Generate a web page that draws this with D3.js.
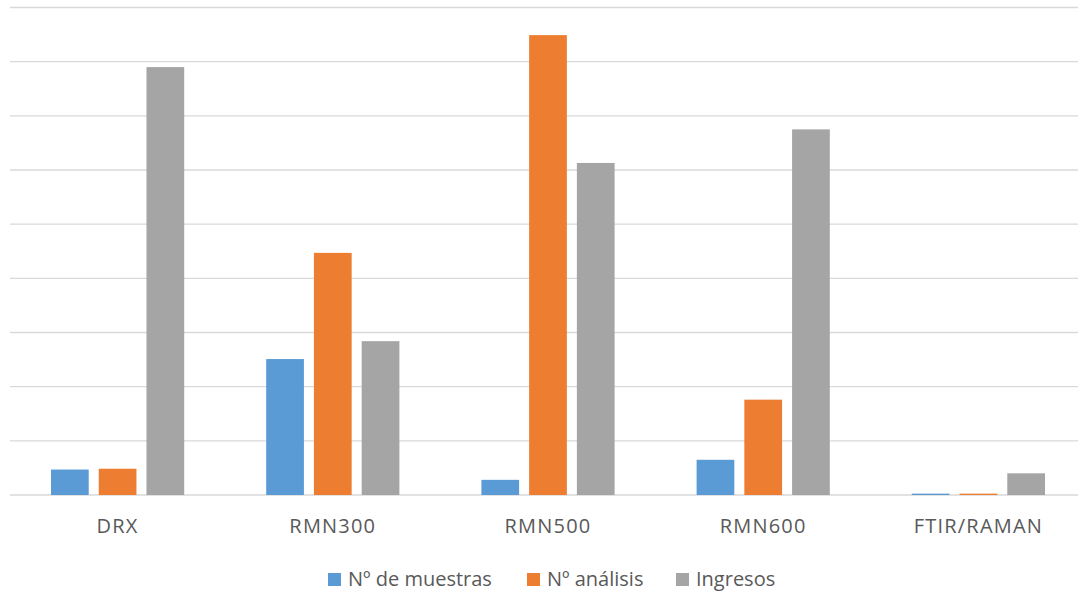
<!DOCTYPE html>
<html>
<head>
<meta charset="utf-8">
<script src="https://cdn.jsdelivr.net/npm/d3@7"></script>
<style>
  body { margin: 0; background: #fff; }
  text { font-family: "Open Sans", "Noto Sans", sans-serif; fill: #595959; }
</style>
</head>
<body>
<div id="chart"></div>
<script>
const categories = ["DRX", "RMN300", "RMN500", "RMN600", "FTIR/RAMAN"];
const seriesNames = ["Nº de muestras", "Nº análisis", "Ingresos"];
const muestras = [470, 2510, 280, 650, 25];
const analisis = [485, 4470, 8490, 1760, 25];
const ingresos = [7900, 2840, 6130, 6750, 400];
const yTicks = [0, 1000, 2000, 3000, 4000, 5000, 6000, 7000, 8000, 9000];
const colors = ["#5B9BD5", "#ED7D31", "#A5A5A5"];

const seriesValues = [muestras, analisis, ingresos];
const data = categories.map((c, i) => ({
  cat: c,
  values: seriesNames.map((s, j) => ({ key: s, value: seriesValues[j][i] }))
}));

const width = 1080;
const height = 596;
const margin = { top: 7.5, right: 2, bottom: 101, left: 10 };

const svg = d3.select("#chart")
  .append("svg")
  .attr("width", width)
  .attr("height", height);

// plot area runs a little past the right edge, like the original
const x0 = d3.scaleBand()
  .domain(categories)
  .range([margin.left, 1086])
  .padding(0);

const groupPad = 41;
const x1 = d3.scaleBand()
  .domain(seriesNames)
  .range([groupPad, x0.bandwidth() - groupPad])
  .paddingInner(0.21)
  .paddingOuter(0);

const y = d3.scaleLinear()
  .domain([0, 9000])
  .range([height - margin.bottom, margin.top]);

// gridlines
svg.append("g")
  .selectAll("line")
  .data(yTicks)
  .join("line")
  .attr("x1", margin.left)
  .attr("x2", width - margin.right)
  .attr("y1", d => y(d))
  .attr("y2", d => y(d))
  .attr("stroke", "#D9D9D9")
  .attr("stroke-width", 1.4);

// bars
svg.append("g")
  .selectAll("g")
  .data(data)
  .join("g")
  .attr("transform", d => `translate(${x0(d.cat)},0)`)
  .selectAll("rect")
  .data(d => d.values)
  .join("rect")
  .attr("x", d => x1(d.key))
  .attr("y", d => y(d.value))
  .attr("width", x1.bandwidth())
  .attr("height", d => y(0) - y(d.value))
  .attr("fill", (d, i) => colors[i]);

// category labels
svg.append("g")
  .selectAll("text")
  .data(categories)
  .join("text")
  .attr("x", d => x0(d) + x0.bandwidth() / 2)
  .attr("y", 533)
  .attr("text-anchor", "middle")
  .attr("font-size", 20)
  .attr("letter-spacing", 1.2)
  .text(d => d);

// legend
const legend = svg.append("g");
const legendX = [328, 527, 676];
seriesNames.forEach((s, i) => {
  const g = legend.append("g").attr("transform", `translate(${legendX[i]},573)`);
  g.append("rect")
    .attr("width", 13)
    .attr("height", 13)
    .attr("fill", colors[i]);
  g.append("text")
    .attr("x", 20)
    .attr("y", 13)
    .attr("font-size", 20)
    .text(s);
});
</script>
</body>
</html>
